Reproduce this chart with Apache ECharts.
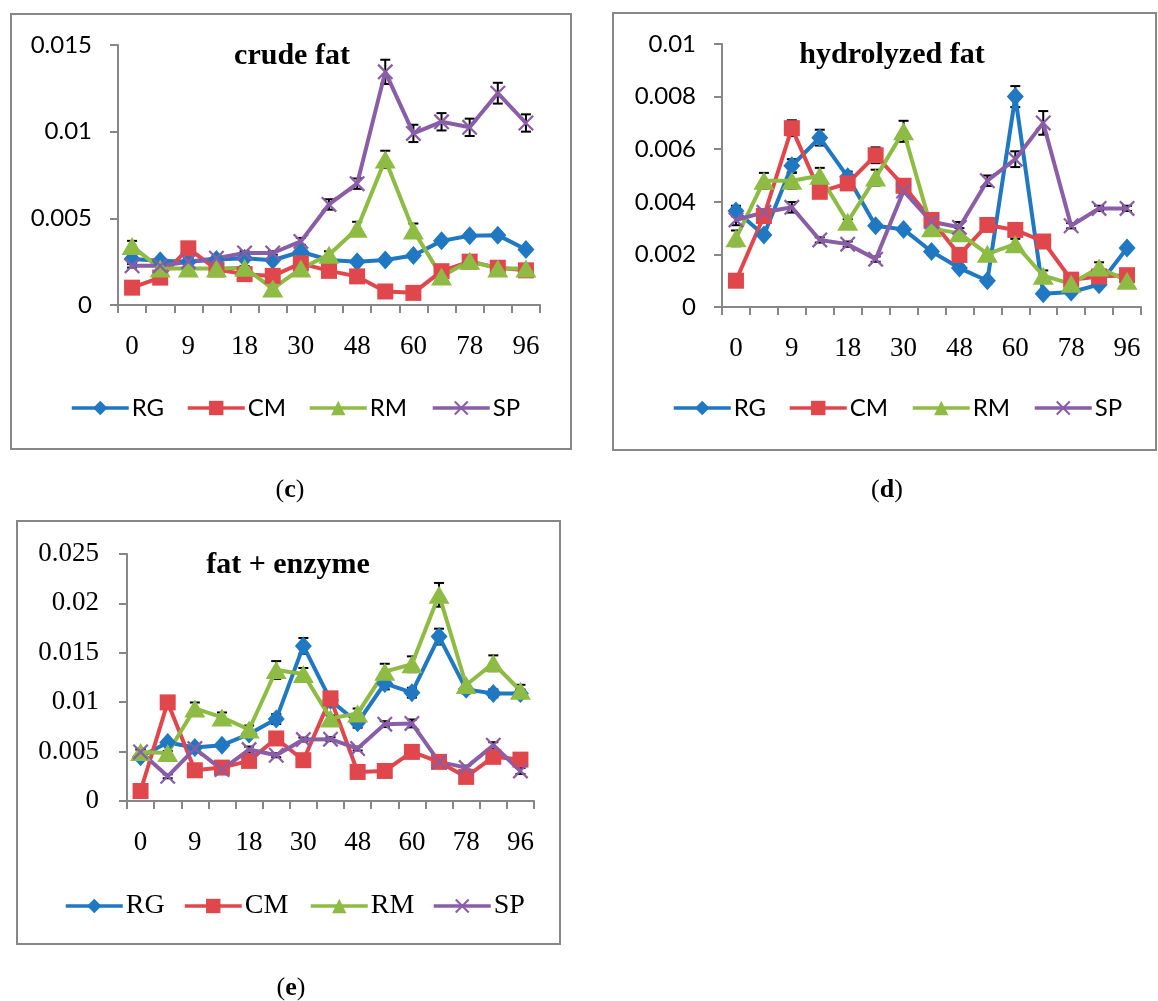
<!DOCTYPE html>
<html>
<head>
<meta charset="utf-8">
<script src="https://cdn.jsdelivr.net/npm/echarts@6/dist/echarts.min.js"></script>
<style>
  html, body { margin: 0; padding: 0; background: #fff; }
  #chart { width: 1158px; height: 1001px; }
</style>
</head>
<body>
<div id="chart"></div>
<script>
// Sampling times (h); every second label is shown on the axis
const hours = ['0', '6', '9', '12', '18', '24', '30', '36', '48', '54', '60', '72', '78', '84', '96'];
const seriesNames = ['RG', 'CM', 'RM', 'SP'];
const panelTitles = ['crude fat', 'hydrolyzed fat', 'fat + enzyme'];
const panelLetters = ['c', 'd', 'e'];
const yMax = [0.015, 0.01, 0.025];
const yStep = [0.005, 0.002, 0.005];

// (c) crude fat
const crudeRG = [0.00265, 0.00255, 0.0025, 0.00262, 0.0027, 0.00258, 0.00307, 0.0026, 0.0025, 0.0026, 0.00285, 0.0037, 0.004, 0.00403, 0.0032];
const crudeCM = [0.001, 0.00158, 0.00327, 0.00205, 0.00178, 0.00168, 0.0024, 0.00197, 0.00165, 0.00078, 0.0007, 0.00195, 0.0025, 0.00215, 0.002];
const crudeRM = [0.0034, 0.0021, 0.0021, 0.0021, 0.00215, 0.00095, 0.0021, 0.0029, 0.0044, 0.0084, 0.0043, 0.00165, 0.00255, 0.0021, 0.0021];
const crudeSP = [0.00226, 0.00226, 0.0025, 0.0027, 0.003, 0.003, 0.00367, 0.0058, 0.007, 0.01345, 0.0099, 0.01057, 0.01025, 0.01222, 0.0105];
const crudeRGErr = [0.0001, 0.0001, 0.0001, 0.0001, 0.0001, 0.0001, 0.0001, 0.0001, 0.0001, 0.0001, 0.0001, 0.00015, 0.00015, 0.00015, 0.0001];
const crudeCMErr = [0.0001, 0.0001, 0.0001, 0.0001, 0.0001, 0.0001, 0.0001, 0.0001, 0.0001, 0.0001, 0.0001, 0.0001, 0.0001, 0.0001, 0.0001];
const crudeRMErr = [0.0003, 0.0001, 0.0001, 0.0001, 0.0001, 0.0001, 0.0001, 0.0002, 0.0004, 0.0005, 0.0004, 0.0001, 0.0002, 0.0001, 0.0001];
const crudeSPErr = [0.0001, 0.0001, 0.0001, 0.0001, 0.0001, 0.0001, 0.0002, 0.0003, 0.0003, 0.0007, 0.0005, 0.0005, 0.0005, 0.0006, 0.0005];

// (d) hydrolyzed fat
const hydroRG = [0.00365, 0.00274, 0.00537, 0.00644, 0.00495, 0.00309, 0.00295, 0.00211, 0.00148, 0.001, 0.008, 0.0005, 0.00057, 0.00085, 0.00224];
const hydroCM = [0.001, 0.00346, 0.0068, 0.00438, 0.0047, 0.00577, 0.00461, 0.00331, 0.00198, 0.00312, 0.00293, 0.00249, 0.00104, 0.00116, 0.00121];
const hydroRM = [0.00261, 0.0048, 0.0048, 0.00499, 0.00324, 0.00492, 0.00668, 0.00299, 0.0028, 0.00202, 0.00239, 0.00119, 0.00088, 0.0015, 0.001];
const hydroSP = [0.00331, 0.0036, 0.00379, 0.00255, 0.00239, 0.00182, 0.00441, 0.00324, 0.00303, 0.0048, 0.00562, 0.007, 0.00309, 0.00375, 0.00375];
const hydroRGErr = [0.0002, 0.0001, 0.00025, 0.0003, 0.0002, 0.0001, 0.0001, 0.0001, 0.0001, 0.0001, 0.0004, 0.0001, 0.0001, 0.0001, 0.0001];
const hydroCMErr = [0.0001, 0.0001, 0.0003, 0.0001, 0.0001, 0.0003, 0.0001, 0.0001, 0.0001, 0.0001, 0.0001, 0.0001, 0.0001, 0.0001, 0.0001];
const hydroRMErr = [0.0003, 0.0003, 0.0003, 0.0003, 0.0001, 0.0003, 0.0004, 0.0001, 0.0002, 0.0001, 0.0002, 0.0002, 0.0001, 0.0002, 0.0001];
const hydroSPErr = [0.0002, 0.0001, 0.0002, 0.0001, 0.0001, 0.0001, 0.0001, 0.0001, 0.0002, 0.0002, 0.0003, 0.00045, 0.0001, 0.0001, 0.0001];

// (e) fat + enzyme
const enzRG = [0.00447, 0.00592, 0.00541, 0.00565, 0.00677, 0.00829, 0.0157, 0.0102, 0.00792, 0.0119, 0.01096, 0.01664, 0.0113, 0.01089, 0.01089];
const enzCM = [0.00101, 0.00998, 0.00311, 0.00338, 0.00406, 0.00633, 0.00413, 0.01039, 0.00294, 0.00304, 0.00497, 0.00396, 0.00244, 0.00447, 0.00419];
const enzRM = [0.00497, 0.00487, 0.00937, 0.00846, 0.00724, 0.01326, 0.01286, 0.00836, 0.00886, 0.01309, 0.01384, 0.02087, 0.01174, 0.01394, 0.01116];
const enzSP = [0.00497, 0.0025, 0.00531, 0.00318, 0.00521, 0.00463, 0.00622, 0.00626, 0.00531, 0.00778, 0.00785, 0.00396, 0.00338, 0.00565, 0.00304];
const enzRGErr = [0.0002, 0.0002, 0.0002, 0.0002, 0.0002, 0.0005, 0.0008, 0.0003, 0.0005, 0.0006, 0.0005, 0.0008, 0.0004, 0.0004, 0.0004];
const enzCMErr = [0.0002, 0.0002, 0.0002, 0.0002, 0.0002, 0.0002, 0.0002, 0.0002, 0.0002, 0.0002, 0.0002, 0.0002, 0.0002, 0.0002, 0.0002];
const enzRMErr = [0.0003, 0.0002, 0.0006, 0.0005, 0.0004, 0.0009, 0.0006, 0.0003, 0.0005, 0.0008, 0.0008, 0.0012, 0.0003, 0.0008, 0.0006];
const enzSPErr = [0.0002, 0.0002, 0.0002, 0.0002, 0.0003, 0.0002, 0.0002, 0.0002, 0.0002, 0.0003, 0.0004, 0.0002, 0.0002, 0.0003, 0.0003];

const panelValues = [
  [crudeRG, crudeCM, crudeRM, crudeSP],
  [hydroRG, hydroCM, hydroRM, hydroSP],
  [enzRG, enzCM, enzRM, enzSP]
];
const panelErrors = [
  [crudeRGErr, crudeCMErr, crudeRMErr, crudeSPErr],
  [hydroRGErr, hydroCMErr, hydroRMErr, hydroSPErr],
  [enzRGErr, enzCMErr, enzRMErr, enzSPErr]
];

// ---- styling & layout ----
const SANS = 'Lato';
const SERIF = 'Liberation Serif';
const AXIS_GREY = '#878787';
const colors = ['#1F78C1', '#E0474C', '#8DBB44', '#8A5DA7'];
const crossPath = 'path://M0,1L1,0L10,9L9,10Z M9,0L10,1L1,10L0,9Z';
const symbols = ['diamond', 'rect', 'triangle', crossPath];
const symbolSizes = [[17, 19], 16, [21, 18], 16];

const layout = [
  { grid: { left: 118, top: 45, width: 422, height: 260 }, yFont: SANS, yFontSize: 24, yMargin: 26,
    legendFont: SANS, legendFontSize: 24, legendLeft: [70, 186, 308, 431], legendY: 407,
    frame: { x: 11, y: 14, width: 560, height: 435 }, title: [292, 56], caption: [290, 490] },
  { grid: { left: 722, top: 44, width: 419, height: 263 }, yFont: SANS, yFontSize: 24, yMargin: 26,
    legendFont: SANS, legendFontSize: 24, legendLeft: [672, 788, 911, 1033], legendY: 407,
    frame: { x: 613, y: 13, width: 543, height: 437 }, title: [892, 55], caption: [887, 490] },
  { grid: { left: 127, top: 554, width: 407, height: 247 }, yFont: SERIF, yFontSize: 27, yMargin: 28,
    legendFont: SERIF, legendFontSize: 28, legendLeft: [64, 183, 309, 432], legendY: 903,
    frame: { x: 17, y: 521, width: 543, height: 423 }, title: [288, 565], caption: [291, 988] }
];

const grids = [], xAxes = [], yAxes = [], series = [], legends = [], graphics = [];

function errorBarRenderer(params, api) {
  const idx = api.value(0), v = api.value(1), e = api.value(2);
  const top = api.coord([idx, v + e]);
  const bot = api.coord([idx, v - e]);
  const half = 5;
  const style = { stroke: '#000', lineWidth: 2, fill: null };
  return {
    type: 'group',
    children: [
      { type: 'line', shape: { x1: top[0], y1: top[1], x2: bot[0], y2: bot[1] }, style },
      { type: 'line', shape: { x1: top[0] - half, y1: top[1], x2: top[0] + half, y2: top[1] }, style },
      { type: 'line', shape: { x1: bot[0] - half, y1: bot[1], x2: bot[0] + half, y2: bot[1] }, style }
    ]
  };
}

layout.forEach((L, p) => {
  grids.push(Object.assign({ containLabel: false, outerBoundsMode: 'none' }, L.grid));

  xAxes.push({
    type: 'category', gridIndex: p, data: hours, boundaryGap: true,
    axisLine: { show: true, lineStyle: { color: AXIS_GREY, width: 2 } },
    axisTick: { show: true, interval: 0, length: 8, lineStyle: { color: AXIS_GREY, width: 2 } },
    axisLabel: { interval: 1, margin: 28, color: '#000', fontFamily: SERIF, fontSize: 27 },
    splitLine: { show: false }
  });

  yAxes.push({
    type: 'value', gridIndex: p, min: 0, max: yMax[p], interval: yStep[p],
    axisLine: { show: true, lineStyle: { color: AXIS_GREY, width: 2 } },
    axisTick: { show: true, length: 8, lineStyle: { color: AXIS_GREY, width: 2 } },
    axisLabel: {
      margin: L.yMargin, color: '#000', fontFamily: L.yFont, fontSize: L.yFontSize,
      formatter: v => String(+v.toFixed(4))
    },
    splitLine: { show: false }
  });

  // error bars (drawn beneath the lines and markers)
  seriesNames.forEach((name, s) => {
    const vals = panelValues[p][s];
    const errs = panelErrors[p][s];
    series.push({
      type: 'custom', xAxisIndex: p, yAxisIndex: p, z: 2, silent: true,
      renderItem: errorBarRenderer,
      encode: { x: 0, y: 1 },
      data: vals.map((v, i) => [i, v, errs[i]])
    });
  });

  seriesNames.forEach((name, s) => {
    series.push({
      type: 'line', name: name, xAxisIndex: p, yAxisIndex: p, z: 3,
      data: panelValues[p][s],
      symbol: symbols[s], symbolSize: symbolSizes[s],
      showAllSymbol: true,
      lineStyle: { color: colors[s], width: 4 },
      itemStyle: { color: colors[s] },
      emphasis: { disabled: true }
    });
  });

  seriesNames.forEach((name, s) => {
    legends.push({
      data: [{ name: name }],
      left: L.legendLeft[s], top: L.legendY - 11,
      orient: 'horizontal', itemWidth: 57, itemHeight: 18, padding: 0,
      lineStyle: { width: 3.5 },
      textStyle: { color: '#000', fontFamily: L.legendFont, fontSize: L.legendFontSize, padding: [0, 0, 0, -2] },
      selectedMode: false
    });
  });

  graphics.push({
    type: 'rect', silent: true, z: 0,
    shape: L.frame,
    style: { fill: 'none', stroke: AXIS_GREY, lineWidth: 2 }
  });
  graphics.push({
    type: 'text', silent: true, x: L.title[0], y: L.title[1],
    style: { text: panelTitles[p], fontFamily: SERIF, fontWeight: 'bold', fontSize: 30,
      fill: '#000', align: 'center', verticalAlign: 'middle' }
  });
  graphics.push({
    type: 'text', silent: true, x: L.caption[0], y: L.caption[1],
    style: { text: '({b|' + panelLetters[p] + '})', fontFamily: SERIF, fontSize: 26,
      fill: '#000', align: 'center', verticalAlign: 'middle',
      rich: { b: { fontFamily: SERIF, fontSize: 26, fontWeight: 'bold', fill: '#000' } } }
  });
});

const chart = echarts.init(document.getElementById('chart'), null, { renderer: 'canvas' });
chart.setOption({
  backgroundColor: '#fff',
  animation: false,
  grid: grids,
  xAxis: xAxes,
  yAxis: yAxes,
  legend: legends,
  series: series,
  graphic: graphics
});
</script>
</body>
</html>
